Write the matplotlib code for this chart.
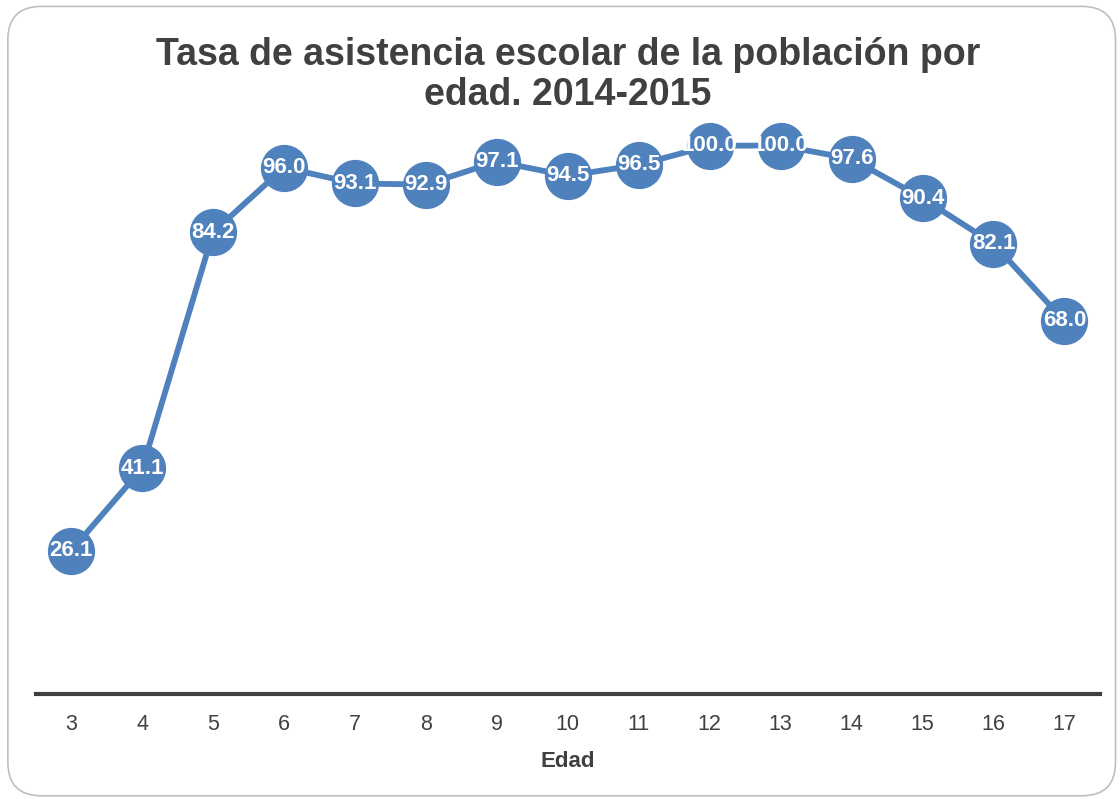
import matplotlib.pyplot as plt
from matplotlib.patches import FancyBboxPatch

plt.rcParams['font.family'] = ['Liberation Sans', 'DejaVu Sans']

# data
edades = [3, 4, 5, 6, 7, 8, 9, 10, 11, 12, 13, 14, 15, 16, 17]
tasa = [26.1, 41.1, 84.2, 96.0, 93.1, 92.9, 97.1, 94.5, 96.5, 100.0, 100.0, 97.6, 90.4, 82.1, 68.0]

azul = '#4f81bd'
gris = '#404040'

fig = plt.figure(figsize=(11.2, 7.99), dpi=100)

# rounded frame around the chart
marco = FancyBboxPatch((0.007, 0.004), 0.989, 0.988,
                       boxstyle="round,pad=0,rounding_size=0.03",
                       transform=fig.transFigure, facecolor='none',
                       edgecolor='#bfbfbf', linewidth=1.2, mutation_aspect=1.4,
                       zorder=-1)
fig.patches.append(marco)

ax = fig.add_axes([0.032, 0.132, 0.950, 0.72])
ax.set_facecolor('none')

ax.plot(edades, tasa, color=azul, linewidth=4.2, marker='o',
        markersize=33, markerfacecolor=azul, markeredgecolor=azul,
        solid_capstyle='round', zorder=2, clip_on=False)

for x, y in zip(edades, tasa):
    ax.text(x, y, f"{y:.1f}", ha='center', va='center', color='white',
            fontsize=16, fontweight='bold', zorder=3)

ax.set_xlim(2.5, 17.5)
ax.set_ylim(0, 105)
ax.set_xticks(edades)
ax.set_xticklabels([str(e) for e in edades], fontsize=15.5, color=gris)
ax.tick_params(axis='x', length=0, pad=15)
ax.set_yticks([])

for s in ['top', 'right', 'left']:
    ax.spines[s].set_visible(False)
ax.spines['bottom'].set_color(gris)
ax.spines['bottom'].set_linewidth(3)

ax.set_xlabel('Edad', fontsize=16, fontweight='bold', color=gris, labelpad=11)

fig.text(0.507, 0.906, 'Tasa de asistencia escolar de la población por\nedad. 2014-2015',
         ha='center', va='center', fontsize=27, fontweight='bold', color=gris,
         linespacing=1.15)

fig.savefig('out.png', dpi=100)
